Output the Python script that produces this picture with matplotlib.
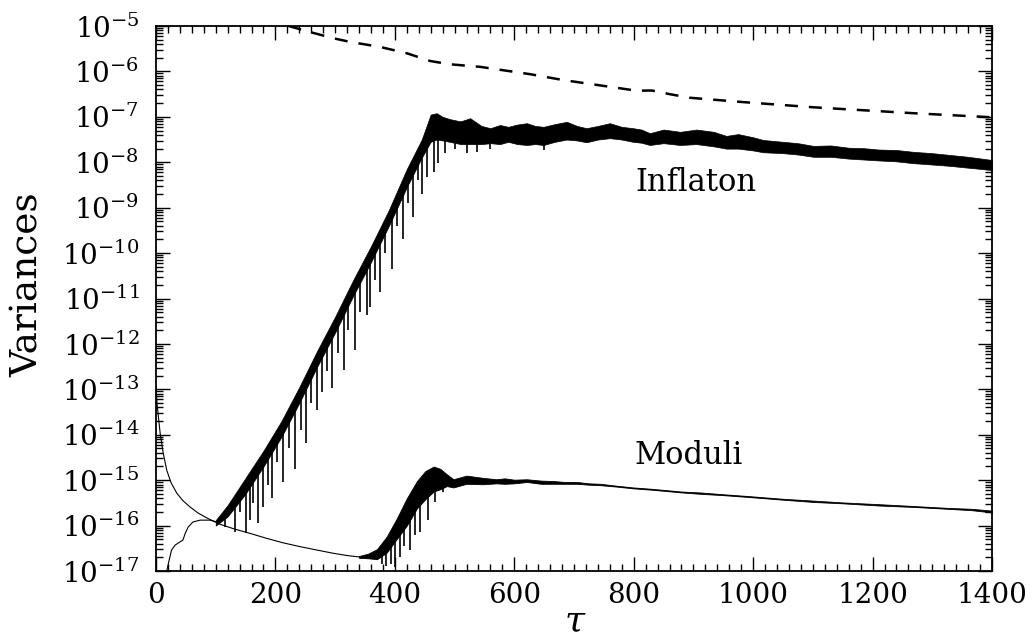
import numpy as np
import matplotlib
matplotlib.use('Agg')
import matplotlib.pyplot as plt
from matplotlib.ticker import LogLocator, MultipleLocator, FixedLocator, NullFormatter

plt.rcParams['font.family'] = ['DejaVu Serif']
plt.rcParams['mathtext.fontset'] = 'dejavuserif'

# ---- data (values are log10 of the variance) ----
# inflaton: smooth start before the resonance
infl_early_tau = [18, 22, 26, 32, 40, 45, 49, 54, 62, 74, 90, 102]
infl_early_log = [-17.0, -16.76, -16.54, -16.43, -16.36, -16.32, -16.17, -16.03, -15.92, -15.88, -15.88, -15.92]

# inflaton: envelope of the fast oscillation (upper edge / dense lower edge)
infl_tau = [100, 120, 150, 180, 210, 240, 270, 300, 330, 360, 390, 420, 445, 460, 470, 480,
            492, 510, 526, 545, 560, 576, 590, 605, 621, 635, 649, 668, 688, 705, 721, 740,
            760, 780, 799, 813, 827, 850, 878, 905, 934, 955, 975, 1000, 1017, 1050, 1075, 1101,
            1130, 1160, 1185, 1210, 1240, 1268, 1300, 1330, 1360, 1400]
infl_up = [-15.88, -15.55, -14.95, -14.35, -13.7, -12.95, -12.15, -11.4, -10.6, -9.85, -9.05, -8.15,
           -7.5, -6.95, -6.92, -7.0, -7.05, -7.1, -7.03, -7.2, -7.25, -7.18, -7.22, -7.17, -7.14,
           -7.2, -7.22, -7.16, -7.11, -7.2, -7.25, -7.2, -7.14, -7.22, -7.25, -7.28, -7.36, -7.28,
           -7.33, -7.28, -7.33, -7.42, -7.38, -7.45, -7.51, -7.55, -7.58, -7.64, -7.63, -7.68,
           -7.69, -7.72, -7.73, -7.77, -7.8, -7.84, -7.88, -7.95]
infl_lo = [-16.0, -15.8, -15.3, -14.7, -14.05, -13.3, -12.5, -11.75, -10.95, -10.2, -9.4, -8.55,
           -7.9, -7.55, -7.5, -7.52, -7.55, -7.6, -7.6, -7.6, -7.58, -7.6, -7.55, -7.6, -7.62,
           -7.6, -7.62, -7.55, -7.5, -7.52, -7.56, -7.5, -7.47, -7.5, -7.55, -7.57, -7.62, -7.58,
           -7.62, -7.6, -7.65, -7.7, -7.7, -7.74, -7.78, -7.8, -7.83, -7.88, -7.88, -7.92,
           -7.94, -7.96, -7.98, -8.02, -8.05, -8.08, -8.12, -8.17]

# inflaton: deep troughs sticking out below the band (tau, bottom, top)
infl_spike_tau = [116, 132, 140, 151, 157, 163, 171, 180, 188, 194, 203, 212, 222, 233, 243, 252,
                  260, 269, 278, 287, 294, 305, 314, 322, 333, 342, 353, 358, 367, 375, 384, 395,
                  404, 414, 422, 431, 438, 445, 453, 465, 473, 484, 500, 521, 537, 560, 649]
infl_spike_bot = [-16.03, -16.14, -15.7, -16.17, -15.88, -15.5, -15.95, -15.59, -15.1, -15.4, -14.6,
                  -15.04, -14.3, -14.75, -13.9, -14.19, -13.3, -13.46, -13.05, -12.6, -12.98, -12.2,
                  -12.58, -11.7, -12.14, -11.3, -11.37, -11.18, -10.6, -10.85, -10.0, -10.34, -9.4,
                  -9.69, -8.9, -9.2, -8.4, -8.69, -8.32, -8.21, -8.02, -7.8, -7.7, -7.8, -7.77,
                  -7.7, -7.73]
infl_spike_top = [-15.75, -15.55, -15.4, -15.25, -15.1, -15.0, -14.85, -14.65, -14.5, -14.35, -14.15,
                  -13.95, -13.7, -13.45, -13.2, -12.95, -12.75, -12.5, -12.25, -12.0, -11.85, -11.6,
                  -11.35, -11.1, -10.85, -10.6, -10.35, -10.2, -9.95, -9.75, -9.5, -9.2, -8.95,
                  -8.7, -8.45, -8.2, -8.0, -7.85, -7.65, -7.45, -7.4, -7.4, -7.45, -7.45, -7.45,
                  -7.45, -7.5]

# moduli: smooth decay from the initial value
mod_decay_tau = [0, 2, 4, 7, 12, 18, 25, 35, 45, 57, 70, 85, 107, 130, 157, 185, 213, 240, 270,
                 297, 320, 340]
mod_decay_log = [-12.94, -13.35, -13.6, -13.97, -14.4, -14.78, -15.05, -15.29, -15.45, -15.59,
                 -15.72, -15.83, -15.97, -16.07, -16.17, -16.28, -16.38, -16.46, -16.54, -16.61,
                 -16.66, -16.69]

# moduli: oscillation envelope
mod_tau = [340, 355, 370, 386, 403, 420, 437, 451, 465, 476, 487, 498, 520, 548, 570, 584, 600,
           621, 645, 666, 685, 705, 725, 744, 770, 799, 830, 855, 880, 911, 950, 992, 1050, 1101,
           1150, 1213, 1270, 1325, 1365, 1400]
mod_up = [-16.67, -16.62, -16.52, -16.25, -15.85, -15.4, -15.02, -14.8, -14.7, -14.75, -14.87,
          -14.98, -14.9, -14.95, -14.98, -14.96, -14.99, -14.98, -15.01, -15.02, -15.04, -15.04,
          -15.07, -15.08, -15.12, -15.16, -15.19, -15.22, -15.25, -15.27, -15.31, -15.35, -15.41,
          -15.45, -15.49, -15.53, -15.57, -15.61, -15.63, -15.67]
mod_lo = [-16.71, -16.72, -16.74, -16.6, -16.3, -16.0, -15.62, -15.42, -15.25, -15.2, -15.13,
          -15.16, -15.08, -15.09, -15.07, -15.08, -15.07, -15.04, -15.08, -15.08, -15.08, -15.08,
          -15.1, -15.11, -15.14, -15.18, -15.21, -15.24, -15.27, -15.3, -15.33, -15.37, -15.43,
          -15.48, -15.51, -15.56, -15.59, -15.63, -15.66, -15.71]

mod_spike_tau = [378, 386, 393, 400, 409, 416, 425, 433, 442, 455, 467, 481]
mod_spike_bot = [-16.85, -16.9, -16.85, -16.92, -16.7, -16.45, -16.54, -16.2, -16.14, -15.88, -15.48, -15.26]
mod_spike_top = [-16.5, -16.4, -16.2, -16.1, -15.9, -15.8, -15.7, -15.5, -15.3, -15.1, -15.0, -15.0]

# dashed reference curve
dash_tau = [222, 260, 297, 325, 375, 420, 459, 490, 543, 626, 682, 766, 805, 830, 860, 894, 978,
            1101, 1268, 1400]
dash_log = [-5.0, -5.14, -5.27, -5.35, -5.46, -5.6, -5.77, -5.84, -5.9, -6.06, -6.19, -6.35,
            -6.425, -6.42, -6.5, -6.58, -6.67, -6.79, -6.92, -7.01]


def v(a):
    return 10.0 ** np.asarray(a)


fig = plt.figure(figsize=(10.34, 6.4), dpi=100)
ax = fig.add_axes([156 / 1034, 1 - 571 / 640, (992 - 156) / 1034, (571 - 26) / 640])

k = 'black'
ax.plot(infl_early_tau, v(infl_early_log), color=k, lw=0.8)
ax.fill_between(infl_tau, v(infl_lo), v(infl_up), color=k, lw=0.5, edgecolor=k)
ax.vlines(infl_spike_tau, v(infl_spike_bot), v(infl_spike_top), color=k, lw=1.2)

ax.plot(mod_decay_tau, v(mod_decay_log), color=k, lw=0.8)
ax.fill_between(mod_tau, v(mod_lo), v(mod_up), color=k, lw=0.6, edgecolor=k)
ax.vlines(mod_spike_tau, v(mod_spike_bot), v(mod_spike_top), color=k, lw=1.2)

ax.plot(dash_tau, v(dash_log), color=k, lw=1.8, dashes=(5.2, 4.4))

ax.set_yscale('log')
ax.set_xlim(0, 1400)
ax.set_ylim(1e-17, 1e-5)

ax.xaxis.set_major_locator(MultipleLocator(200))
ax.xaxis.set_minor_locator(MultipleLocator(20))
ax.yaxis.set_major_locator(FixedLocator(v(np.arange(-17, -4))))
ax.yaxis.set_minor_locator(LogLocator(base=10, subs=np.arange(2, 10), numticks=30))
ax.yaxis.set_minor_formatter(NullFormatter())
ax.set_yticklabels([r'$10^{%d}$' % e for e in range(-17, -4)])

for s in ax.spines.values():
    s.set_linewidth(1.3)
ax.tick_params(which='both', direction='in', top=True, right=True, width=1.0)
ax.tick_params(which='major', length=10)
ax.tick_params(which='minor', length=5)
ax.tick_params(axis='x', labelsize=20, pad=8)
ax.tick_params(axis='y', labelsize=20, pad=12)

ax.text(802, v(-8.44), 'Inflaton', fontsize=22, va='center', ha='left')
ax.text(802, v(-14.45), 'Moduli', fontsize=22, va='center', ha='left')

fig.text(28 / 1034, 1 - 285 / 640, 'Variances', fontsize=27, rotation=90, ha='center', va='center')
fig.text(575 / 1034, 2 / 640, r'$\tau$', fontsize=26, ha='center', va='bottom')

fig.savefig('out.png', dpi=100)
